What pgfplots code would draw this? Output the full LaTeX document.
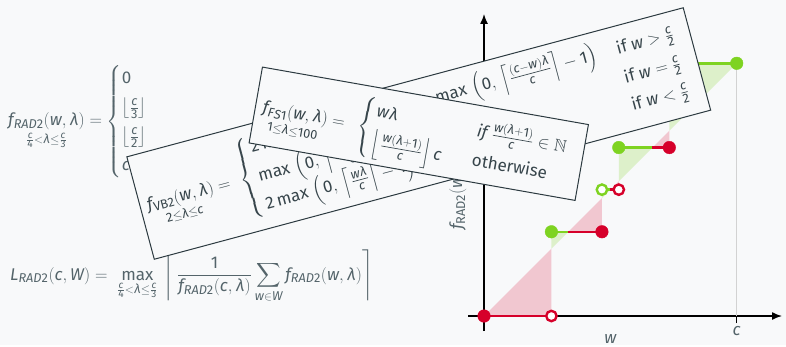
\documentclass[border=0pt]{standalone}
\usepackage{amsmath,amssymb}
\usepackage{mathspec}
\setmainfont{Fira Sans}
\setmathsfont(Digits,Latin,Greek){Fira Sans}
\setmathrm{Fira Sans}
\DeclareMathSizes{17}{17}{12.8}{10}
\usepackage{pgfplots}
\pgfplotsset{compat=1.18}
\usetikzlibrary{arrows.meta}

\definecolor{bg}{HTML}{F8F9FA}
\definecolor{ink}{HTML}{37454B}
\definecolor{inklight}{HTML}{54646A}
\definecolor{frame}{HTML}{2C3A40}
\definecolor{rad}{HTML}{D6002A}
\definecolor{grn}{HTML}{7ED321}

\newcommand{\bigfont}{\fontsize{17}{20}\selectfont}
% a curly brace of given total height, centred on the math axis
\newcommand{\tallbrace}[1]{$\left\{\vcenter{\hrule height #1 width 0pt}\right.$}

\begin{document}
\begin{tikzpicture}[x=1pt,y=1pt]
\fill[bg] (0,0) rectangle (786,345);

% definition of the rounding function and the load bound
\node[anchor=west, text=inklight, font=\bigfont, inner sep=0pt] at (8,223.5) {%
  $\displaystyle \underset{\frac{c}{4}<\lambda\le\frac{c}{3}}{f_{RAD2}(w,\lambda)} =
  \renewcommand{\arraystretch}{1.45}%
  \left\{\begin{array}{@{}l@{}}
    0\\
    \left\lfloor\frac{c}{3}\right\rfloor\\
    \left\lfloor\frac{c}{2}\right\rfloor\\
    c
  \end{array}\right.$};

\node[anchor=base west, text=inklight, font=\bigfont, inner sep=0pt] at (10,65) {%
  $\displaystyle L_{RAD2}(c,W) = \;\max_{\frac{c}{4}<\lambda\le\frac{c}{3}}\,
  \left\lceil\, \frac{1}{f_{RAD2}(c,\lambda)} \sum_{w\in W} f_{RAD2}(w,\lambda)\right\rceil$};

\begin{axis}[
  at={(468pt,14pt)}, anchor=south west,
  x=16.847pt, y=16.847pt,
  xmin=-0.95, xmax=17.69, ymin=-0.89, ymax=17.93,
  axis lines=middle,
  axis line style={line width=1.5pt, black, -{Latex[length=10pt,width=8pt]}},
  clip=false,
  xtick={15}, xticklabels={$c$},
  ytick=\empty,
  xtick align=outside,
  major tick length=7pt,
  tick style={line width=1.2pt, black},
  ticklabel style={text=inklight, font=\bigfont},
  xlabel={$w$},
  ylabel={$f_{\mathrm{RAD2}}(w,\lambda)$},
  label style={text=inklight, font=\bigfont},
  xlabel style={at={(axis cs:7.5,-1.35)}, anchor=center},
  ylabel style={at={(axis cs:-1.55,4.9)}, rotate=90, anchor=west},
]
% area where the rounded value falls below w
\addplot[draw=none, fill=rad, fill opacity=0.2] coordinates {(0,0) (4,4) (4,0)} -- cycle;
\addplot[draw=none, fill=rad, fill opacity=0.2] coordinates {(5,5) (7,7) (7,5)} -- cycle;
\addplot[draw=none, fill=rad, fill opacity=0.2] coordinates {(7.5,7.5) (8,8) (8,7.5)} -- cycle;
\addplot[draw=none, fill=rad, fill opacity=0.2] coordinates {(10,10) (11,11) (11,10)} -- cycle;
% area where the rounded value lies above w
\addplot[draw=none, fill=grn, fill opacity=0.22] coordinates {(4,4) (4,5) (5,5)} -- cycle;
\addplot[draw=none, fill=grn, fill opacity=0.22] coordinates {(7,7) (7,7.5) (7.5,7.5)} -- cycle;
\addplot[draw=none, fill=grn, fill opacity=0.22] coordinates {(8,8) (8,10) (10,10)} -- cycle;
\addplot[draw=none, fill=grn, fill opacity=0.22] coordinates {(11,11) (11,15) (15,15)} -- cycle;
% w = c
\addplot[gray!35, line width=0.9pt] coordinates {(15,0) (15,15)};
% steps
\addplot[rad, line width=2.4pt] coordinates {(0,0) (4,0)};
\addplot[grn, line width=2.4pt] coordinates {(4,5) (5,5)};
\addplot[rad, line width=2.4pt] coordinates {(5,5) (7,5)};
\addplot[grn, line width=2.4pt] coordinates {(7,7.5) (7.5,7.5)};
\addplot[rad, line width=2.4pt] coordinates {(7.5,7.5) (8,7.5)};
\addplot[grn, line width=2.4pt] coordinates {(8,10) (10,10)};
\addplot[rad, line width=2.4pt] coordinates {(10,10) (11,10)};
\addplot[grn, line width=2.4pt] coordinates {(11,15) (15,15)};
% closed ends
\addplot[only marks, mark=*, mark size=6.3pt, rad, mark options={draw=none, fill=rad}] coordinates {(0,0) (7,5) (11,10)};
\addplot[only marks, mark=*, mark size=6.3pt, grn, mark options={draw=none, fill=grn}] coordinates {(4,5) (8,10) (15,15)};
% open ends
\addplot[only marks, mark=*, mark size=5.2pt, rad, mark options={draw=rad, fill=white, line width=2.4pt}] coordinates {(4,0) (8,7.5)};
\addplot[only marks, mark=*, mark size=5.2pt, grn, mark options={draw=grn, fill=white, line width=2.4pt}] coordinates {(7,7.5)};
\end{axis}

% card with the second definition
\begin{scope}[shift={(418.75,211.5)}, rotate=15, transform shape,
              every node/.style={text=ink, font=\bigfont, inner sep=0pt}]
  \draw[frame, line width=1pt, fill=bg] (-288,-53) rectangle (288,53);
  \node[anchor=base west] at (-281,-4.25)
    {$\displaystyle \underset{2\le\lambda\le c}{f_{\mathrm{VB2}}(w,\lambda)} =$};
  \node at (-176,0) {\tallbrace{84pt}};
  \node[anchor=west] at (-166,29)
    {$2\max\,\left(0,\,\left\lceil\frac{w\lambda}{c}\right\rceil-1\right)+{}$};
  \node[anchor=east] at (193,29)
    {$\max\,\left(0,\,\left\lceil\frac{(c-w)\lambda}{c}\right\rceil-1\right)$};
  \node[anchor=west] at (-166,-1)
    {$\max\,\left(0,\,\left\lceil\frac{(c/2)\lambda}{c}\right\rceil-1\right)$};
  \node[anchor=west] at (-166,-29.5)
    {$2\max\,\left(0,\,\left\lceil\frac{w\lambda}{c}\right\rceil-1\right)$};
  \node[anchor=west] at (213,29) {$\text{if } w>\frac{c}{2}$};
  \node[anchor=west] at (213,-1) {$\text{if } w=\frac{c}{2}$};
  \node[anchor=west] at (213,-29.5) {$\text{if } w<\frac{c}{2}$};
\end{scope}

% card with the first definition
\begin{scope}[shift={(418.75,211.25)}, rotate=-10, transform shape,
              every node/.style={text=ink, font=\bigfont, inner sep=0pt}]
  \draw[frame, line width=1pt, fill=bg] (-165.5,-38.5) rectangle (165.5,38.5);
  \node[anchor=base west] at (-158,-6.75)
    {$\displaystyle \underset{1\le\lambda\le 100}{f_{FS1}(w,\lambda)} =$};
  \node at (-53,-2.5) {\tallbrace{64pt}};
  \node[anchor=base west] at (-45,9.25) {$w\lambda$};
  \node[anchor=west] at (-45,-18.5)
    {$\left\lfloor\frac{w(\lambda+1)}{c}\right\rfloor c$};
  \node[anchor=west] at (57,13) {$if\ \frac{w(\lambda+1)}{c}\in\mathbb{N}$};
  \node[anchor=base west] at (57,-22.25) {otherwise};
\end{scope}
\end{tikzpicture}
\end{document}
